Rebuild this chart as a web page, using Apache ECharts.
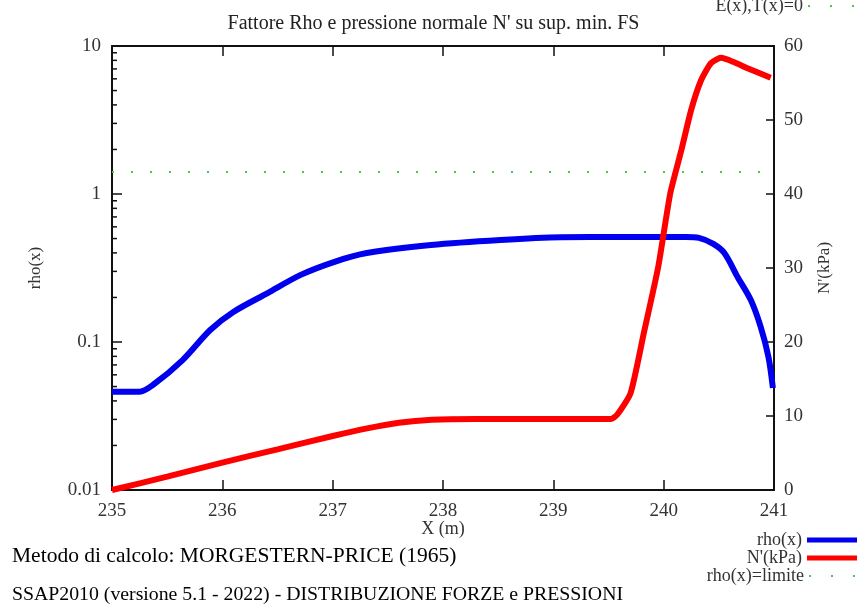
<!DOCTYPE html>
<html>
<head>
<meta charset="utf-8">
<script src="https://cdn.jsdelivr.net/npm/echarts@6/dist/echarts.min.js"></script>
<style>
html,body{margin:0;padding:0;background:#fff;}
#main{width:867px;height:608px;}
</style>
</head>
<body>
<div id="main"></div>
<script>
// rho(x) - asse sinistro logaritmico
var rhoX = [235, 235.25, 235.37, 235.64, 235.89, 236.10, 236.41, 236.71, 237.01, 237.31, 237.89, 238.52, 239.07, 239.6, 240.2, 240.32, 240.45, 240.55, 240.67, 240.79, 240.88, 240.95, 240.99];
var rhoY = [0.0462, 0.0462, 0.0512, 0.0755, 0.1205, 0.1595, 0.214, 0.284, 0.347, 0.399, 0.452, 0.489, 0.51, 0.512, 0.512, 0.505, 0.46, 0.399, 0.275, 0.192, 0.126, 0.079, 0.0489];
// N'(kPa) - asse destro
var nX = [235, 235.5, 236, 236.5, 237, 237.3, 237.6, 237.9, 238.3, 239.52, 239.58, 239.70, 239.82, 239.95, 240.06, 240.16, 240.25, 240.34, 240.43, 240.52, 240.64, 240.76, 240.97];
var nY = [0, 1.8, 3.7, 5.5, 7.3, 8.3, 9.1, 9.5, 9.6, 9.6, 10.2, 13.1, 21.2, 30.1, 40.1, 45.9, 51.4, 55.4, 57.7, 58.4, 57.8, 57.0, 55.7];
// rho(x)=limite
var limitX = [235, 241];
var limitY = [1.41, 1.41];
var minorTicks = [2, 3, 4, 5, 6, 7, 8, 9];

var font = 'Liberation Serif';
var dots = 'path://M0,0h2v2h-2zM22,0h2v2h-2zM44,0h2v2h-2z';
var chart = echarts.init(document.getElementById('main'));

function pairs(xs, ys) {
    var res = [];
    for (var i = 0; i < xs.length; i++) res.push([xs[i], ys[i]]);
    return res;
}

var option = {
    animation: false,
    backgroundColor: '#fff',
    title: [{
        text: "Fattore Rho e pressione normale N' su sup. min. FS",
        left: 'center',
        top: 9,
        textStyle: {fontFamily: font, fontSize: 20, fontWeight: 'normal', color: '#222'}
    }, {
        text: 'Metodo di calcolo: MORGESTERN-PRICE (1965)',
        left: 7,
        top: 540,
        textStyle: {fontFamily: font, fontSize: 21.5, fontWeight: 'normal', color: '#000'}
    }, {
        text: 'SSAP2010 (versione 5.1 - 2022) - DISTRIBUZIONE FORZE e PRESSIONI',
        left: 7,
        top: 580,
        textStyle: {fontFamily: font, fontSize: 19.8, fontWeight: 'normal', color: '#000'}
    }],
    legend: [{
        data: [{name: 'E(x),T(x)=0', icon: dots}],
        right: 8,
        top: -8,
        align: 'right',
        itemWidth: 46,
        itemHeight: 2,
        textStyle: {fontFamily: font, fontSize: 18, color: '#333'}
    }, {
        data: [{name: 'rho(x)', icon: 'rect'}, {name: "N'(kPa)", icon: 'rect'}],
        orient: 'vertical',
        right: 5,
        top: 526,
        align: 'right',
        itemGap: 0,
        itemWidth: 50,
        itemHeight: 5,
        textStyle: {fontFamily: font, fontSize: 18, color: '#333', lineHeight: 18}
    }, {
        data: [{name: 'rho(x)=limite', icon: dots}],
        right: 7,
        top: 562,
        align: 'right',
        itemWidth: 46,
        itemHeight: 2,
        textStyle: {fontFamily: font, fontSize: 18, color: '#333', lineHeight: 18}
    }],
    grid: {left: 112, right: 93, top: 46, bottom: 118},
    xAxis: [{
        type: 'value',
        min: 235, max: 241, interval: 1,
        name: 'X (m)',
        nameLocation: 'middle',
        nameGap: 30,
        nameMoveOverlap: false,
        nameTextStyle: {fontFamily: font, fontSize: 18, color: '#333'},
        axisLine: {lineStyle: {color: '#111', width: 2}},
        axisTick: {inside: true, length: 10, lineStyle: {color: '#111', width: 1.5}},
        axisLabel: {fontFamily: font, fontSize: 19, color: '#333', margin: 12},
        splitLine: {show: false}
    }, {
        type: 'value',
        position: 'top',
        min: 235, max: 241, interval: 1,
        axisLine: {show: true, lineStyle: {color: '#111', width: 2}},
        axisTick: {inside: true, length: 10, lineStyle: {color: '#111', width: 1.5}},
        axisLabel: {show: false},
        splitLine: {show: false}
    }],
    yAxis: [{
        type: 'log',
        logBase: 10,
        min: 0.01, max: 10,
        name: 'rho(x)',
        nameLocation: 'middle',
        nameGap: 68,
        nameTextStyle: {fontFamily: font, fontSize: 17, color: '#333'},
        axisLine: {show: true, lineStyle: {color: '#111', width: 2}},
        axisTick: {inside: true, length: 10, lineStyle: {color: '#111', width: 1.5}},
        axisLabel: {fontFamily: font, fontSize: 19, color: '#333', margin: 11},
        splitLine: {show: false}
    }, {
        type: 'value',
        min: 0, max: 60, interval: 10,
        position: 'right',
        name: "N'(kPa)",
        nameLocation: 'middle',
        nameRotate: 90,
        nameGap: 42,
        nameTextStyle: {fontFamily: font, fontSize: 17, color: '#333'},
        axisLine: {show: true, lineStyle: {color: '#111', width: 2}},
        axisTick: {inside: true, length: 8, lineStyle: {color: '#111', width: 1.5}},
        axisLabel: {fontFamily: font, fontSize: 19, color: '#333', margin: 10},
        splitLine: {show: false}
    }],
    series: [{
        name: 'E(x),T(x)=0',
        type: 'line',
        symbol: 'none',
        data: [],
        itemStyle: {color: '#44cc44'},
        lineStyle: {color: '#44cc44', width: 2, type: [2, 17]}
    }, {
        name: 'rho(x)=limite',
        type: 'line',
        symbol: 'none',
        data: pairs(limitX, limitY),
        itemStyle: {color: '#44cc44'},
        lineStyle: {color: '#44cc44', width: 2, type: [2, 17]}
    }, {
        name: 'rho(x)',
        type: 'line',
        symbol: 'none',
        smooth: 0.3,
        data: pairs(rhoX, rhoY),
        itemStyle: {color: '#0000ee'},
        lineStyle: {color: '#0000ee', width: 6}
    }, {
        name: "N'(kPa)",
        type: 'line',
        yAxisIndex: 1,
        symbol: 'none',
        smooth: 0.2,
        data: pairs(nX, nY),
        itemStyle: {color: '#ff0000'},
        lineStyle: {color: '#ff0000', width: 6}
    }]
};
chart.setOption(option);

// tacche minori dell'asse logaritmico
var x0 = chart.convertToPixel({xAxisIndex: 0}, 235);
var els = [];
[0.01, 0.1, 1].forEach(function (dec) {
    minorTicks.forEach(function (m) {
        var py = chart.convertToPixel({yAxisIndex: 0}, dec * m);
        els.push({
            type: 'line',
            shape: {x1: x0, y1: py, x2: x0 + 5, y2: py},
            style: {stroke: '#111', lineWidth: 1.5}
        });
    });
});
chart.setOption({graphic: els});
</script>
</body>
</html>
